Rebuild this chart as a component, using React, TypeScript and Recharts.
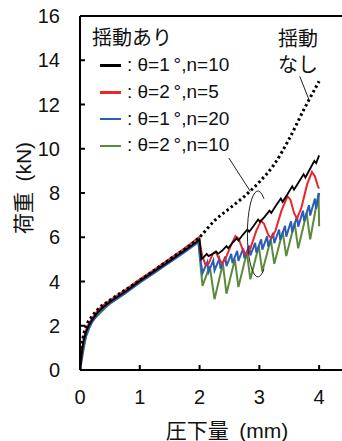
import React from 'react';
import { LineChart, Line, XAxis, YAxis, ReferenceLine, ReferenceDot } from 'recharts';

type Pt = [number, number];

// 圧下量 (mm) vs 荷重 (kN)
const noRockPts: Pt[] = [
  [0, 0], [0.02, 0.9], [0.05, 1.45], [0.1, 1.95], [0.2, 2.42], [0.3, 2.75], [0.5, 3.15],
  [1.0, 4.05], [1.5, 5.0], [2.0, 6.0], [2.25, 6.75], [2.5, 7.3], [2.75, 7.85], [3.0, 8.5],
  [3.25, 9.3], [3.5, 10.45], [3.75, 11.8], [4.0, 13.05],
];

const blackPts: Pt[] = [
  [0, 0], [0.03, 0.8], [0.06, 1.3], [0.1, 1.72], [0.15, 2.02], [0.2, 2.25], [0.3, 2.62],
  [0.4, 2.87], [0.5, 3.07], [0.75, 3.52], [1.0, 4.02], [1.25, 4.47], [1.5, 4.93], [1.75, 5.4],
  [1.98, 5.85], [2.0, 5.9], [2.03, 5.0], [2.07, 5.1], [2.12, 5.25], [2.15, 5.15], [2.22, 5.25],
  [2.28, 5.35], [2.31, 5.25], [2.38, 5.4], [2.45, 5.6], [2.48, 5.5], [2.55, 5.75], [2.62, 5.95],
  [2.65, 5.85], [2.72, 6.1], [2.8, 6.35], [2.83, 6.25], [2.9, 6.5], [2.98, 6.8], [3.01, 6.7],
  [3.08, 6.9], [3.17, 7.2], [3.2, 7.1], [3.27, 7.4], [3.36, 7.75], [3.39, 7.6], [3.46, 7.9],
  [3.55, 8.3], [3.58, 8.15], [3.65, 8.45], [3.74, 8.85], [3.77, 8.7], [3.84, 9.05], [3.92, 9.45],
  [3.95, 9.35], [4.0, 9.7],
];

const redPts: Pt[] = [
  [0, 0], [0.03, 0.85], [0.06, 1.38], [0.1, 1.8], [0.15, 2.1], [0.2, 2.33], [0.3, 2.7],
  [0.4, 2.95], [0.5, 3.15], [0.75, 3.6], [1.0, 4.1], [1.25, 4.55], [1.5, 5.02], [1.75, 5.5],
  [1.99, 6.0], [2.04, 5.2], [2.1, 4.75], [2.15, 4.8], [2.22, 5.25], [2.27, 5.35], [2.32, 5.05],
  [2.38, 4.8], [2.43, 5.0], [2.52, 5.6], [2.6, 6.05], [2.65, 5.95], [2.72, 5.45], [2.78, 5.2],
  [2.85, 5.5], [2.95, 6.3], [3.03, 6.75], [3.08, 6.6], [3.15, 6.1], [3.2, 5.95], [3.27, 6.3],
  [3.37, 7.2], [3.47, 7.85], [3.52, 7.7], [3.58, 7.1], [3.63, 6.85], [3.7, 7.3], [3.8, 8.4],
  [3.88, 8.95], [3.93, 8.75], [3.98, 8.3], [4.0, 8.2],
];

const bluePts: Pt[] = [
  [0, 0], [0.03, 0.55], [0.06, 1.05], [0.1, 1.5], [0.15, 1.88], [0.2, 2.15], [0.3, 2.55],
  [0.4, 2.8], [0.5, 3.0], [0.75, 3.45], [1.0, 3.95], [1.25, 4.4], [1.5, 4.86], [1.75, 5.32],
  [1.98, 5.78], [2.02, 4.9], [2.05, 4.38], [2.13, 4.88], [2.15, 4.43], [2.23, 4.95], [2.25, 4.5],
  [2.33, 5.03], [2.35, 4.58], [2.43, 5.13], [2.45, 4.7], [2.53, 5.25], [2.55, 4.83], [2.63, 5.38],
  [2.65, 4.93], [2.73, 5.5], [2.75, 5.05], [2.83, 5.62], [2.85, 5.18], [2.93, 5.75], [2.95, 5.3],
  [3.03, 5.9], [3.05, 5.44], [3.13, 6.04], [3.15, 5.58], [3.23, 6.2], [3.25, 5.73], [3.33, 6.35],
  [3.35, 5.88], [3.43, 6.52], [3.45, 6.03], [3.53, 6.72], [3.55, 6.23], [3.63, 6.95], [3.65, 6.48],
  [3.73, 7.2], [3.75, 6.73], [3.83, 7.45], [3.85, 6.98], [3.93, 7.75], [3.95, 7.28], [4.0, 8.0],
];

const greenPts: Pt[] = [
  [0, 0], [0.1, 1.55], [0.2, 2.2], [0.5, 3.02], [1.0, 3.97], [1.5, 4.9], [1.98, 5.8],
  [2.02, 4.6], [2.05, 3.8], [2.17, 4.7], [2.25, 3.2], [2.39, 4.8], [2.45, 3.45], [2.59, 5.0],
  [2.65, 3.75], [2.79, 5.3], [2.85, 4.1], [2.99, 5.6], [3.05, 4.45], [3.19, 5.9], [3.25, 4.8],
  [3.39, 6.25], [3.45, 5.15], [3.59, 6.65], [3.65, 5.5], [3.79, 7.1], [3.85, 5.9], [3.99, 8.0],
  [4.0, 6.5],
];

const yTicks = [0, 2, 4, 6, 8, 10, 12, 14, 16];
const xTicks = [0, 1, 2, 3, 4];

const legendTitle = '揺動あり';
const legendLabels = [': θ=1\u2009°,n=10', ': θ=2\u2009°,n=5', ': θ=1\u2009°,n=20', ': θ=2\u2009°,n=10'];
const seriesColors = ['#000000', '#e8262b', '#2c5cb8', '#5b8a3c'];

const FONT = "'Liberation Sans', Arial, 'Noto Sans CJK JP', sans-serif";

const toRows = (pts: Pt[]) => pts.map(([x, y]) => ({ x, y }));

const YTick = (props: any) => {
  const { x, y, payload } = props;
  return (
    <g>
      <line x1={x} x2={x + 5} y1={y} y2={y} stroke="#000" strokeWidth={2} />
      <text x={x - 20} y={y} dy={7} textAnchor="end" fontSize={20} fill="#111" fontFamily={FONT}>
        {payload.value}
      </text>
    </g>
  );
};

const XTick = (props: any) => {
  const { x, y, payload } = props;
  return (
    <g>
      <line x1={x} x2={x} y1={y} y2={y - 5} stroke="#000" strokeWidth={2} />
      <text x={x} y={y + 34} textAnchor="middle" fontSize={20} fill="#111" fontFamily={FONT}>
        {payload.value}
      </text>
    </g>
  );
};

const Bracket = (props: any) => {
  const { cx, cy } = props;
  const rx = 10.5;
  const ry = 43;
  const a = (55 * Math.PI) / 180;
  const sx = cx + rx * Math.cos(a);
  const sy = ry * Math.sin(a);
  return (
    <path
      d={`M ${sx} ${cy - sy} A ${rx} ${ry} 0 1 0 ${sx} ${cy + sy}`}
      fill="none"
      stroke="#222"
      strokeWidth={1}
    />
  );
};

export default function App() {
  return (
    <div
      style={{
        position: 'fixed', left: 0, top: 0, width: 342, height: 441,
        overflow: 'hidden', background: '#fff', fontFamily: FONT, color: '#111',
      }}
    >
      <LineChart width={355} height={441} margin={{ top: 16, right: 0, left: 20, bottom: 41 }}>
        <XAxis
          dataKey="x" type="number" domain={[0, 4.6]} ticks={xTicks} allowDataOverflow
          axisLine={{ stroke: '#000', strokeWidth: 2 }} tickLine={false} tickSize={0} tickMargin={0}
          tick={<XTick />} height={30}
        />
        <YAxis
          type="number" domain={[0, 16]} ticks={yTicks} allowDataOverflow
          axisLine={{ stroke: '#000', strokeWidth: 2 }} tickLine={false} tickSize={0} tickMargin={0}
          tick={<YTick />} width={60}
        />
        <ReferenceLine y={16} stroke="#000" strokeWidth={2} />
        <Line data={toRows(greenPts)} dataKey="y" stroke={seriesColors[3]} strokeWidth={2} dot={false} type="linear" isAnimationActive={false} />
        <Line data={toRows(bluePts)} dataKey="y" stroke={seriesColors[2]} strokeWidth={2} dot={false} type="linear" isAnimationActive={false} />
        <Line data={toRows(redPts)} dataKey="y" stroke={seriesColors[1]} strokeWidth={2} dot={false} type="linear" isAnimationActive={false} />
        <Line data={toRows(blackPts)} dataKey="y" stroke={seriesColors[0]} strokeWidth={1.8} dot={false} type="linear" isAnimationActive={false} />
        <Line data={toRows(noRockPts)} dataKey="y" stroke="#000" strokeWidth={3} strokeDasharray="2.5 2.8" dot={false} type="monotone" isAnimationActive={false} />
        <ReferenceLine segment={[{ x: 2.49, y: 9.58 }, { x: 2.85, y: 8.07 }]} stroke="#222" strokeWidth={1} />
        <ReferenceLine segment={[{ x: 3.676, y: 13.27 }, { x: 3.826, y: 12.25 }]} stroke="#222" strokeWidth={1} />
        <ReferenceDot x={2.976} y={6.15} r={1} shape={<Bracket />} />
      </LineChart>

      <div style={{ position: 'absolute', left: 92, top: 28, fontSize: 20, lineHeight: '20px' }}>{legendTitle}</div>
      {legendLabels.map((label, i) => {
        const cy = 65.7 + i * 26.7;
        return (
          <React.Fragment key={label}>
            <div style={{ position: 'absolute', left: 100, top: cy - 1.25, width: 21, height: 2.5, background: seriesColors[i] }} />
            <div style={{ position: 'absolute', left: 127, top: cy - 10.5, fontSize: 19, lineHeight: '20px', whiteSpace: 'nowrap' }}>{label}</div>
          </React.Fragment>
        );
      })}

      <div style={{ position: 'absolute', left: 278, top: 29, fontSize: 20, lineHeight: '20px' }}>揺動</div>
      <div style={{ position: 'absolute', left: 278, top: 54.5, fontSize: 20, lineHeight: '20px' }}>なし</div>

      <div
        style={{
          position: 'absolute', left: 23, top: 188, fontSize: 21, lineHeight: '21px', whiteSpace: 'nowrap',
          transform: 'translate(-50%, -50%) rotate(-90deg)',
        }}
      >
        荷重{'\u2002'}(kN)
      </div>
      <div
        style={{
          position: 'absolute', left: 227, top: 430, fontSize: 21, lineHeight: '21px', whiteSpace: 'nowrap',
          transform: 'translate(-50%, -50%)',
        }}
      >
        圧下量{'\u2002'}(mm)
      </div>
    </div>
  );
}
